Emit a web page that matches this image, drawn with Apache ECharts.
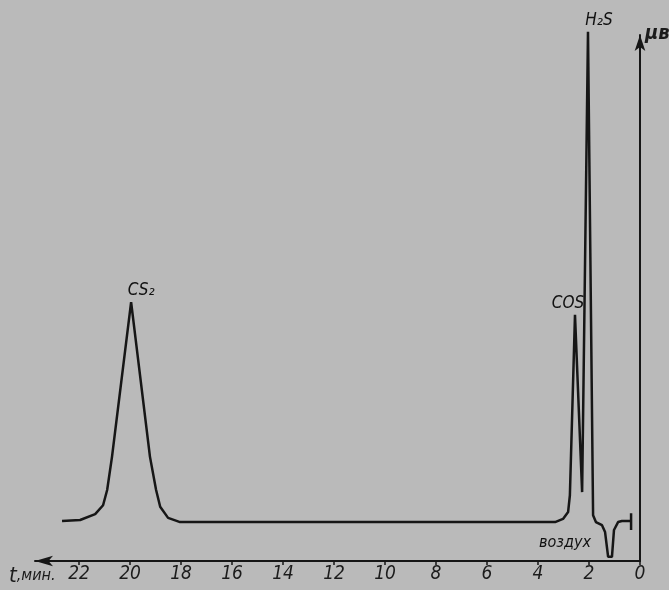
<!DOCTYPE html>
<html>
<head>
<meta charset="utf-8">
<script src="https://cdn.jsdelivr.net/npm/echarts@6/dist/echarts.min.js"></script>
<style>
  html, body { margin: 0; padding: 0; background: #bababa; }
  #chart { width: 669px; height: 590px; }
</style>
</head>
<body>
<div id="chart"></div>
<script>
// retention time, min (axis runs right to left)
const timeTicks = [0, 2, 4, 6, 8, 10, 12, 14, 16, 18, 20, 22]
// detector trace
const traceTime = [22.67, 21.96, 21.37, 21.06, 20.90, 20.71, 19.96, 19.22, 18.98, 18.82, 18.51, 18.04,
  3.33, 3.02, 2.82, 2.75, 2.55, 2.27, 2.04, 1.84, 1.73, 1.49, 1.37, 1.25, 1.10, 1.02, 0.86, 0.71, 0.35]
const traceSignal = [7.6, 7.8, 8.9, 10.6, 13.5, 19.8, 49.2, 19.8, 13.5, 10.3, 8.2, 7.4,
  7.4, 8.0, 9.3, 12.5, 46.8, 13.1, 100.6, 8.7, 7.4, 6.8, 5.5, 0.8, 0.8, 5.9, 7.4, 7.6, 7.6]
// end marker of the recording
const endTime = [0.35, 0.35]
const endSignal = [9.1, 5.9]
// peak names
const peakNames = ['CS₂', 'COS', 'H₂S']
const peakTime = [19.96, 2.55, 2.04]
const peakSignal = [49.2, 46.8, 100.6]

const font = '"DejaVu Sans Condensed", "DejaVu Sans", sans-serif'
const ink = '#161616'
const labelOffsets = [[10, 2], [-7, 2], [11, 2]]

const chart = echarts.init(document.getElementById('chart'))

chart.setOption({
  backgroundColor: '#bababa',
  animation: false,
  grid: { left: 35, right: 29, top: 35, bottom: 29 },
  xAxis: {
    type: 'value',
    inverse: true,
    min: 0,
    max: 23.73,
    interval: 2,
    axisLine: {
      lineStyle: { color: ink, width: 2 },
      symbol: ['arrow', 'none'],
      symbolSize: [8, 18]
    },
    axisTick: { customValues: timeTicks, length: 4, lineStyle: { color: ink, width: 1.5 } },
    axisLabel: {
      customValues: timeTicks,
      margin: 4,
      color: '#1c1c1c',
      fontFamily: font,
      fontStyle: 'italic',
      fontSize: 19
    },
    splitLine: { show: false }
  },
  yAxis: {
    type: 'value',
    position: 'right',
    min: 0,
    max: 100,
    axisLine: {
      show: true,
      lineStyle: { color: ink, width: 2 },
      symbol: ['none', 'arrow'],
      symbolSize: [8, 16]
    },
    axisTick: { show: false },
    axisLabel: { show: false },
    splitLine: { show: false }
  },
  graphic: [
    {
      type: 'text',
      left: 9,
      top: 565,
      style: {
        text: '{t|t}{u|,мин.}',
        fill: '#1c1c1c',
        rich: {
          t: { fontFamily: font, fontStyle: 'italic', fontSize: 22, fill: '#1c1c1c' },
          u: { fontFamily: font, fontStyle: 'italic', fontSize: 16, fill: '#1c1c1c' }
        }
      }
    },
    {
      type: 'text',
      left: 645,
      top: 24,
      style: {
        text: 'μв',
        fill: '#1c1c1c',
        font: 'italic bold 20px ' + font
      }
    }
  ],
  series: [
    {
      type: 'line',
      data: traceTime.map((t, i) => [t, traceSignal[i]]),
      symbol: 'none',
      clip: false,
      lineStyle: { color: ink, width: 2.5 },
      emphasis: { disabled: true }
    },
    {
      type: 'line',
      data: endTime.map((t, i) => [t, endSignal[i]]),
      symbol: 'none',
      lineStyle: { color: ink, width: 2.5 },
      emphasis: { disabled: true }
    },
    {
      type: 'scatter',
      symbolSize: 0,
      clip: false,
      itemStyle: { opacity: 1 },
      data: peakNames.map((n, i) => ({
        name: n,
        value: [peakTime[i], peakSignal[i]],
        label: { offset: labelOffsets[i] }
      })),
      label: {
        show: true,
        position: 'top',
        formatter: '{b}',
        color: '#111',
        opacity: 1,
        fontFamily: font,
        fontStyle: 'italic',
        fontSize: 17
      },
      emphasis: { disabled: true }
    },
    {
      type: 'scatter',
      symbolSize: 0,
      itemStyle: { opacity: 1 },
      data: [{ name: 'воздух', value: [2.94, 3.4] }],
      label: {
        show: true,
        position: 'inside',
        formatter: '{b}',
        color: '#111',
        opacity: 1,
        fontFamily: font,
        fontStyle: 'italic',
        fontSize: 16
      },
      emphasis: { disabled: true }
    }
  ]
})
</script>
</body>
</html>
